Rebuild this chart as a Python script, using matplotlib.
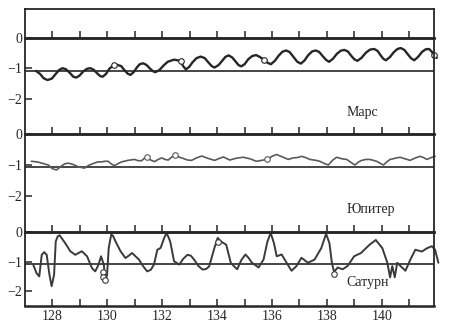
import numpy as np
import matplotlib.pyplot as plt

plt.rcParams['font.family'] = ['Liberation Serif', 'DejaVu Serif']

# x axis (years)
x_ticks = list(range(128, 142))
x_labels = [str(t) if t % 2 == 0 else '' for t in x_ticks]
y_ticks = [0, -1, -2]
y_labels = ['0', '\u22121', '\u22122']
ref_level = -1.08

names = ['Марс', 'Юпитер', 'Сатурн']

# Mars curve
mars_x = [127.4, 127.55, 127.68, 127.82, 127.98, 128.1, 128.24, 128.37,
          128.5, 128.65, 128.76, 128.86, 128.98, 129.12, 129.26, 129.38,
          129.5, 129.63, 129.74, 129.83, 129.95, 130.08, 130.2, 130.35,
          130.5, 130.62, 130.74, 130.84, 130.96, 131.08, 131.18, 131.3,
          131.42, 131.55, 131.66, 131.75, 131.9, 132.05, 132.2, 132.43,
          132.6, 132.67, 132.76, 132.86, 132.98, 133.1, 133.25, 133.4,
          133.55, 133.68, 133.8, 133.9, 134.05, 134.2, 134.3, 134.42,
          134.55, 134.68, 134.78, 134.88, 135.0, 135.13, 135.28, 135.42,
          135.55, 135.72, 135.85, 135.96, 136.1, 136.25, 136.38, 136.51,
          136.64, 136.78, 136.92, 137.05, 137.18, 137.32, 137.46, 137.6,
          137.72, 137.85, 137.97, 138.08, 138.22, 138.36, 138.5, 138.63,
          138.76, 138.88, 139.0, 139.11, 139.26, 139.42, 139.57, 139.72,
          139.84, 139.95, 140.05, 140.15, 140.3, 140.44, 140.57, 140.69,
          140.82, 140.95, 141.07, 141.18, 141.32, 141.46, 141.6, 141.72,
          141.82, 141.9, 142.0]
mars_y = [-1.08, -1.18, -1.32, -1.38, -1.33, -1.2, -1.05, -0.99,
          -1.03, -1.16, -1.27, -1.30, -1.24, -1.1, -1.01, -0.99,
          -1.04, -1.16, -1.25, -1.27, -1.18, -1.0, -0.92, -0.88,
          -0.92, -1.05, -1.17, -1.21, -1.12, -0.96, -0.86, -0.83,
          -0.88, -1.0, -1.09, -1.12, -1.05, -0.9, -0.78, -0.71,
          -0.74, -0.76, -0.92, -1.03, -0.95, -0.8, -0.66, -0.61,
          -0.66, -0.8, -0.92, -0.97, -0.89, -0.73, -0.62, -0.57,
          -0.64, -0.78, -0.89, -0.93, -0.86, -0.7, -0.59, -0.56,
          -0.62, -0.72, -0.82, -0.86, -0.75, -0.57, -0.45, -0.41,
          -0.46, -0.62, -0.78, -0.84, -0.74, -0.56, -0.44, -0.41,
          -0.46, -0.6, -0.72, -0.78, -0.68, -0.52, -0.42, -0.39,
          -0.44, -0.58, -0.7, -0.75, -0.65, -0.48, -0.38, -0.36,
          -0.42, -0.56, -0.68, -0.73, -0.62, -0.46, -0.36, -0.33,
          -0.39, -0.54, -0.67, -0.73, -0.62, -0.46, -0.37, -0.36,
          -0.45, -0.57, -0.65]
mars_cx = [130.26, 132.67, 135.72, 141.9]
mars_cy = [-0.9, -0.76, -0.72, -0.57]

# Jupiter curve
jup_x = [127.23, 127.45, 127.65, 127.85, 128.0, 128.15, 128.3, 128.45,
         128.57, 128.75, 128.95, 129.17, 129.3, 129.49, 129.65, 129.79,
         129.9, 130.03, 130.15, 130.26, 130.4, 130.52, 130.75, 130.99,
         131.12, 131.25, 131.35, 131.43, 131.58, 131.72, 131.85, 131.98,
         132.1, 132.22, 132.35, 132.45, 132.6, 132.77, 132.92, 133.07,
         133.25, 133.44, 133.68, 133.91, 134.07, 134.23, 134.46, 134.7,
         134.95, 135.2, 135.43, 135.62, 135.82, 136.0, 136.16, 136.38,
         136.59, 136.77, 136.92, 137.08, 137.25, 137.38, 137.6, 137.74,
         137.9, 138.05, 138.2, 138.35, 138.55, 138.72, 138.88, 139.02,
         139.15, 139.27, 139.42, 139.57, 139.81, 139.95, 140.06, 140.18,
         140.3, 140.5, 140.66, 140.85, 141.03, 141.2, 141.39, 141.52,
         141.64, 141.8, 141.94]
jup_y = [-0.88, -0.9, -0.95, -1.0, -1.12, -1.16, -1.05, -0.96,
         -0.94, -0.98, -1.06, -1.1, -1.02, -0.95, -0.9, -0.9,
         -0.88, -0.88, -0.97, -1.02, -0.95, -0.9, -0.85, -0.82,
         -0.86, -0.86, -0.78, -0.74, -0.84, -0.89, -0.82, -0.77,
         -0.82, -0.84, -0.74, -0.69, -0.74, -0.79, -0.84, -0.85,
         -0.77, -0.71, -0.79, -0.85, -0.79, -0.74, -0.84, -0.78,
         -0.75, -0.8, -0.88, -0.85, -0.82, -0.72, -0.66, -0.74,
         -0.82, -0.77, -0.76, -0.72, -0.77, -0.82, -0.85, -0.88,
         -0.95, -1.0, -0.85, -0.75, -0.8, -0.82, -0.92, -1.0,
         -0.9, -0.85, -0.82, -0.82, -0.88, -0.95, -1.0, -0.9,
         -0.82, -0.78, -0.75, -0.8, -0.85, -0.78, -0.72, -0.76,
         -0.82, -0.76, -0.72]
jup_cx = [131.43, 132.45, 135.82]
jup_cy = [-0.74, -0.69, -0.82]

# Saturn curve
sat_x = [127.30, 127.42, 127.52, 127.61, 127.70, 127.79, 127.89, 127.97,
         128.06, 128.12, 128.19, 128.26, 128.46, 128.65, 128.83, 129.07,
         129.26, 129.44, 129.56, 129.68, 129.77, 129.87, 129.93, 129.99,
         130.05, 130.14, 130.2, 130.30, 130.48, 130.66, 130.78, 130.90,
         131.15, 131.3, 131.45, 131.58, 131.70, 131.82, 131.94, 132.07,
         132.16, 132.29, 132.43, 132.62, 132.77, 132.92, 133.04, 133.16,
         133.32, 133.47, 133.6, 133.71, 133.90, 134.02, 134.14, 134.33,
         134.5, 134.73, 134.88, 135.03, 135.15, 135.27, 135.51, 135.69,
         135.83, 135.95, 136.07, 136.17, 136.35, 136.53, 136.71, 136.89,
         137.07, 137.31, 137.55, 137.79, 137.97, 138.09, 138.18, 138.26,
         138.39, 138.57, 138.75, 138.99, 139.24, 139.54, 139.78, 140.02,
         140.20, 140.30, 140.38, 140.47, 140.56, 140.68, 140.86, 141.04,
         141.22, 141.46, 141.64, 141.82, 141.94, 142.06]
sat_y = [-1.10, -1.39, -1.50, -0.77, -0.68, -0.77, -1.44, -1.83,
         -1.44, -0.32, -0.15, -0.11, -0.37, -0.65, -0.77, -0.65,
         -0.82, -1.22, -1.33, -1.10, -0.82, -1.10, -1.67, -1.44,
         -0.54, -0.09, -0.12, -0.32, -0.65, -0.88, -0.80, -0.71,
         -0.93, -1.15, -1.33, -1.28, -1.10, -0.60, -0.54, -0.20,
         -0.03, -0.32, -0.99, -1.10, -0.90, -0.77, -0.80, -0.93,
         -1.15, -1.27, -1.25, -1.16, -0.54, -0.20, -0.32, -0.43,
         -1.05, -1.26, -0.95, -0.76, -0.88, -1.04, -1.20, -0.93,
         -0.33, -0.03, -0.38, -0.82, -0.76, -1.04, -1.31, -1.15,
         -0.87, -1.04, -0.93, -0.55, -0.06, -0.38, -1.04, -1.35,
         -1.20, -1.26, -1.15, -0.82, -0.71, -0.44, -0.27, -0.55,
         -1.04, -1.53, -1.15, -1.53, -1.04, -1.15, -1.31, -0.93,
         -0.60, -0.66, -0.55, -0.48, -0.60, -1.04]
sat_cx = [129.83, 129.85, 129.9, 134.02, 138.26]
sat_cy = [-1.34, -1.51, -1.62, -0.34, -1.42]

ink = '#262626'
fig = plt.figure(figsize=(4.52, 3.28), dpi=100)

# panel boxes in figure pixels (top, bottom) and y ranges
L, W = 25 / 452, 409 / 452
ax_top = fig.add_axes([L, 1 - 38 / 328, W, 29 / 328])
ax_mars = fig.add_axes([L, 1 - 134 / 328, W, 96 / 328])
ax_jup = fig.add_axes([L, 1 - 232 / 328, W, 98 / 328])
ax_sat = fig.add_axes([L, 1 - 306 / 328, W, 74 / 328])

ax_top.set_ylim(0, 0.95)
ax_mars.set_ylim(-3.15, 0)
ax_jup.set_ylim(-3.16, 0)
ax_sat.set_ylim(-2.5, 0)

panels = [ax_mars, ax_jup, ax_sat]
series = [(mars_x, mars_y, mars_cx, mars_cy, ink, 1.7),
          (jup_x, jup_y, jup_cx, jup_cy, '#5a5a5a', 1.2),
          (sat_x, sat_y, sat_cx, sat_cy, '#3a3a3a', 1.4)]
name_y = [-2.43, -2.45, -1.69]

for ax in [ax_top] + panels:
    ax.set_xlim(127.0, 141.9)
    ax.set_xticks(x_ticks)
    ax.tick_params(axis='x', direction='in', length=5, width=1.1,
                   bottom=True, top=False, labelbottom=False, colors=ink)
    ax.tick_params(axis='y', direction='in', length=5, width=1.1,
                   left=True, right=False, colors=ink, labelsize=10, pad=2)
    for side in ['top', 'bottom']:
        ax.spines[side].set_linewidth(1.8)
        ax.spines[side].set_color(ink)
    for side in ['left', 'right']:
        ax.spines[side].set_linewidth(1.3)
        ax.spines[side].set_color(ink)
    ax.patch.set_alpha(0)

ax_top.set_yticks([])
ax_top.spines['top'].set_linewidth(1.3)

for ax, (sx, sy, cx, cy, col, lw), name, ny in zip(panels, series, names, name_y):
    ax.axhline(ref_level, color=ink, lw=1.2)
    ax.plot(sx, sy, color=col, lw=lw, clip_on=False, solid_capstyle='round')
    ax.plot(cx, cy, 'o', ms=4, mfc='white', mec=col, mew=0.8, clip_on=False)
    ax.set_yticks(y_ticks, labels=y_labels)
    ax.text(138.7, ny, name, fontsize=10, va='center', ha='left', color=ink)

ax_sat.set_xticks(x_ticks, labels=x_labels)
ax_sat.tick_params(axis='x', labelbottom=True, labelsize=10, pad=3)

plt.savefig('out.png', dpi=100)
